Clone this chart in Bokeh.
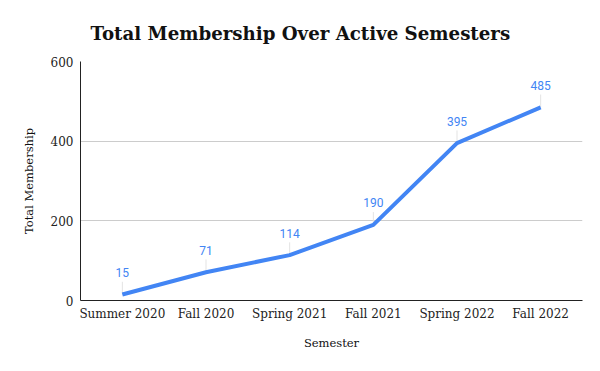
from bokeh.plotting import figure
from bokeh.models import Range1d, ColumnDataSource
from bokeh.core.properties import value
from bokeh.embed import file_html
from bokeh.resources import INLINE

semesters = ["Summer 2020", "Fall 2020", "Spring 2021", "Fall 2021", "Spring 2022", "Fall 2022"]
membership = [15, 71, 114, 190, 395, 485]
y_ticks = [0, 200, 400, 600]

BLUE = "#4285F4"
SERIF = "DejaVu Serif"

src = ColumnDataSource(dict(
    x=semesters,
    y=membership,
    lab=[str(v) for v in membership],
    ytop=[v + 32 for v in membership],
))

p = figure(x_range=semesters, y_range=Range1d(0, 600), width=592, height=361,
           output_backend="svg", toolbar_location=None,
           min_border_left=80, min_border_right=10, min_border_top=61, min_border_bottom=61)

p.title.text = "Total Membership Over Active Semesters"
p.title.text_font = SERIF
p.title.text_font_size = "18.2px"
p.title.text_font_style = "bold"
p.title.align = "left"
p.title.text_color = "#111111"
p.title.standoff = 35
p.title.offset = 10

p.outline_line_color = None
p.xgrid.grid_line_color = None
p.ygrid.grid_line_color = "#cccccc"
p.ygrid.ticker = y_ticks
p.yaxis.ticker = y_ticks

for ax in (p.xaxis, p.yaxis):
    ax.major_tick_line_color = None
    ax.minor_tick_line_color = None
    ax.axis_line_color = "#222222"
    ax.major_label_text_font = SERIF
    ax.major_label_text_color = "#222222"
    ax.axis_label_text_font = SERIF
    ax.axis_label_text_font_style = "normal"
    ax.axis_label_text_font_size = "11.5px"
    ax.axis_label_text_color = "#111111"

p.xaxis.major_label_text_font_size = "12px"
p.yaxis.major_label_text_font_size = "12px"
p.xaxis.major_label_standoff = 0
p.yaxis.major_label_standoff = 1
p.xaxis.axis_label = "Semester"
p.yaxis.axis_label = "Total Membership"
p.xaxis.axis_label_standoff = 12
p.yaxis.axis_label_standoff = 12

p.segment(x0="x", y0="y", x1="x", y1="ytop", source=src, line_color="#e3e3e3", line_width=1)
p.line(x="x", y="y", source=src, line_color=BLUE, line_width=4)
p.text(x="x", y="y", text="lab", source=src, text_font=value("Roboto"), text_font_size="12px",
       text_color=BLUE, text_align="center", text_baseline="middle", y_offset=-22)

open("out.html", "w").write(file_html(p, INLINE))
